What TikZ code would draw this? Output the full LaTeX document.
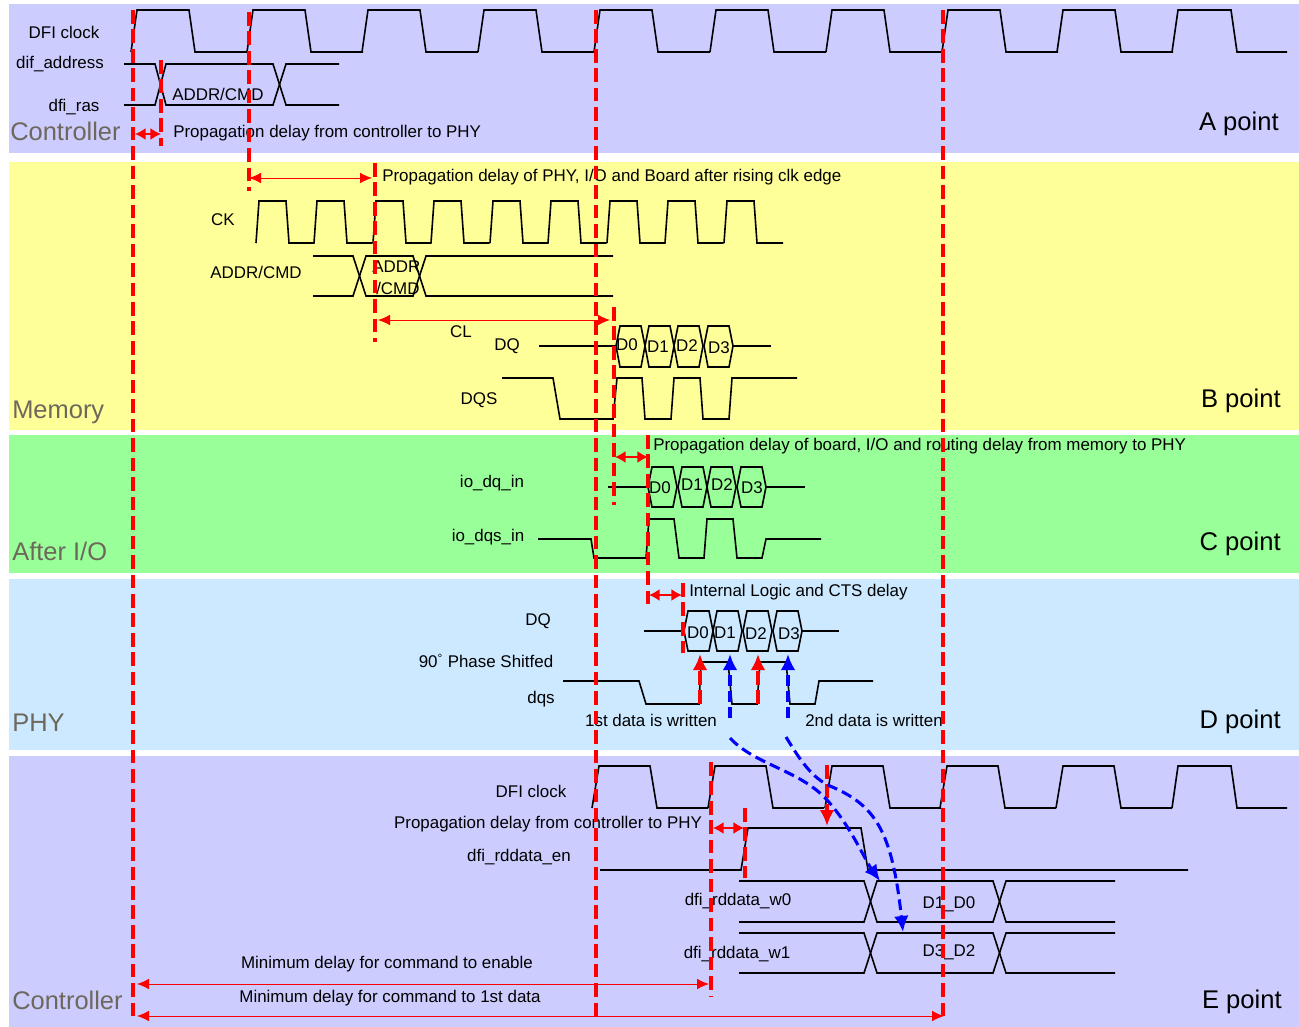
\documentclass[tikz,border=0pt]{standalone}
\usepackage{fontspec}
\setmainfont{Liberation Sans}
\usetikzlibrary{arrows.meta}
\definecolor{ctrlband}{HTML}{CCCCFF}
\definecolor{membband}{HTML}{FFFF99}
\definecolor{ioband}{HTML}{99FF99}
\definecolor{phyband}{HTML}{CCE9FF}
\definecolor{bandtext}{HTML}{6E675C}
\tikzset{
    wave/.style={line join=miter,line width=1.2pt,draw=black},
    label/.style={inner sep=0pt,yshift=-1.4pt,font=\fontsize{12.7}{14}\selectfont},
    band/.style={inner sep=0pt,anchor=west,yshift=-0.6pt,text=bandtext,font=\fontsize{19.1}{22}\selectfont},
    spot/.style={inner sep=0pt,anchor=east,yshift=-1.4pt,font=\fontsize{19.2}{22}\selectfont},
    clkedge/.style={red,line width=2.3pt,dash pattern=on 10.2pt off 4.4pt},
    span/.style={red,line width=0.7pt,{Latex[length=9pt,width=8pt]}-{Latex[length=9pt,width=8pt]}},
    shortspan/.style={red,line width=1.2pt,{Latex[length=8pt,width=9pt]}-{Latex[length=8pt,width=9pt]}},
    redup/.style={clkedge,-{Latex[length=12pt,width=11pt]}},
    blueup/.style={blue,line width=2.3pt,dash pattern=on 8pt off 4pt,-{Latex[length=12pt,width=11pt]}},
}
\begin{document}
\begin{tikzpicture}[x=0.75pt,y=-0.75pt]
\useasboundingbox (0,0) rectangle (1299,1027);

% bands
\fill[ctrlband] (9,4) rectangle (1299,153);
\fill[membband] (9,162) rectangle (1299,430);
\fill[ioband] (9,435) rectangle (1299,573);
\fill[phyband] (9,579) rectangle (1299,750);
\fill[ctrlband] (9,756) rectangle (1299,1027);

% controller A
\foreach \x in {131,247,362,478,594,710,826,942,1057} {
    \draw[wave] (\x,52) -- (\x+6,10) -- (\x+58,10) -- (\x+64,52) -- (\x+116,52);
}
\draw[wave] (1172,52) -- (1178,10) -- (1231,10) -- (1237,52) -- (1287,52);
\draw[wave] (124,64) -- (155,64) -- (166,105) -- (273,105) -- (286,64) -- (339,64);
\draw[wave] (124,105) -- (155,105) -- (166,64) -- (273,64) -- (286,105) -- (339,105);
\node[label] (dficlk) at (64,31) {DFI clock};
\node[label] (difaddr) at (60,62) {dif\_address};
\node[label] (dfiras) at (74,105) {dfi\_ras};
\node[label,anchor=west] (addra) at (172,93) {ADDR/CMD};
\node[label,anchor=west] (propa) at (173,131) {Propagation delay from controller to PHY};
\node[band] (ctrla) at (10,131) {Controller};
\node[spot] (pointa) at (1279,122) {A point};

% memory B
\foreach \x in {256,314,373,431,490,548,607,665} {
    \draw[wave] (\x,243) -- (\x+3,201) -- (\x+30,201) -- (\x+33,243) -- (\x+58.5,243);
}
\draw[wave] (724,243) -- (727,201) -- (754,201) -- (757,243) -- (783,243);
\draw[wave] (313,256) -- (353,256) -- (366,296) -- (413,296) -- (426,256) -- (613,256);
\draw[wave] (313,296) -- (353,296) -- (366,256) -- (413,256) -- (426,296) -- (613,296);
\draw[wave] (539,346) -- (616,346);
\draw[wave] (733,346) -- (771,346);
\foreach \x in {616,645,674,704} {
    \draw[wave] (\x,346) -- (\x+4,326) -- (\x+25,326) -- (\x+29,346) -- (\x+25,367) -- (\x+4,367) -- cycle;
}
\draw[wave] (502,378) -- (553,378) -- (560,419) -- (613,419) -- (617,378) -- (642,378) -- (645,419)
    -- (671,419) -- (674,378) -- (700,378) -- (703,419) -- (729,419) -- (732,378) -- (797,378);
\node[label,anchor=west] (prop) at (382,175) {Propagation delay of PHY, I/O and Board after rising clk edge};
\node[label] (ckb) at (223,218) {CK};
\node[label] (addrb) at (256,271) {ADDR/CMD};
\node[label,anchor=west] (addrin) at (372,265) {ADDR};
\node[label,anchor=west] (cmdin) at (376,287) {/CMD};
\node[label] (clb) at (461,330) {CL};
\node[label] (dqb) at (507,344) {DQ};
\node[label] (dqsb) at (479,398) {DQS};
\node[label] (b0) at (627,343) {D0};
\node[label] (b1) at (658,345) {D1};
\node[label] (b2) at (687,344) {D2};
\node[label] (b3) at (719,346) {D3};
\node[band] (memb) at (12,412) {Memory};
\node[spot] (pointb) at (1281,399) {B point};

% after io C
\draw[wave] (608,487) -- (648,487);
\draw[wave] (766,487) -- (805,487);
\foreach \x in {648,678,707,737} {
    \draw[wave] (\x,487) -- (\x+4,467) -- (\x+25,467) -- (\x+29,487) -- (\x+25,507) -- (\x+4,507) -- cycle;
}
\draw[wave] (538,539) -- (591,539) -- (594,558) -- (646,558) -- (649,519) -- (674,519) -- (679,558)
    -- (704,558) -- (707,519) -- (733,519) -- (737,558) -- (762,558) -- (766,539) -- (821,539);
\node[label,anchor=west] (propc) at (653,444) {Propagation delay of board, I/O and routing delay from memory to PHY};
\node[label] (iodq) at (492,481) {io\_dq\_in};
\node[label] (iodqs) at (488,535) {io\_dqs\_in};
\node[label] (c0) at (660,486) {D0};
\node[label] (c1) at (692,483) {D1};
\node[label] (c2) at (722,483) {D2};
\node[label] (c3) at (752,486) {D3};
\node[band] (afterio) at (12,551) {After I/O};
\node[spot] (pointc) at (1281,542) {C point};

% phy D
\draw[wave] (644,631) -- (684,631);
\draw[wave] (802,631) -- (839,631);
\foreach \x in {684,713,743,773} {
    \draw[wave] (\x,631) -- (\x+4,611) -- (\x+25,611) -- (\x+29,631) -- (\x+25,651) -- (\x+4,651) -- cycle;
}
\draw[wave] (563,681) -- (639,681) -- (646,704) -- (699,704) -- (701,662) -- (728,662) -- (732,704)
    -- (757,704) -- (760,662) -- (786,662) -- (790,704) -- (815,704) -- (819,681) -- (873,681);
\node[label,anchor=west] (propd) at (689,590) {Internal Logic and CTS delay};
\node[label] (dqd) at (538,619) {DQ};
\node[label] (phase) at (486,659) {90\textsuperscript{\textdegree} Phase Shitfed};
\node[label] (dqsd) at (541,697) {dqs};
\node[label] (first) at (651,719) {1st data is written};
\node[label] (second) at (874,719) {2nd data is written};
\node[label] (d0) at (698,631) {D0};
\node[label] (d1) at (725,631) {D1};
\node[label] (d2) at (756,632) {D2};
\node[label] (d3) at (789,632) {D3};
\node[band] (phyd) at (12,722) {PHY};
\node[spot] (pointd) at (1281,720) {D point};

% controller E
\foreach \x in {592,708,825,940,1056} {
    \draw[wave] (\x,808) -- (\x+7,766) -- (\x+58,766) -- (\x+65,808) -- (\x+116,808);
}
\draw[wave] (1172,808) -- (1178,766) -- (1231,766) -- (1237,808) -- (1287,808);
\draw[wave] (600,870) -- (741,870) -- (748,828) -- (861,828) -- (868,870) -- (1188,870);
\foreach \ya/\yb in {881/922,933/973} {
    \draw[wave] (739,\ya) -- (864,\ya) -- (877,\yb) -- (993,\yb) -- (1006,\ya) -- (1115,\ya);
    \draw[wave] (739,\yb) -- (864,\yb) -- (877,\ya) -- (993,\ya) -- (1006,\yb) -- (1115,\yb);
}
\node[label] (dficlke) at (531,790) {DFI clock};
\node[label] (prope) at (548,822) {Propagation delay from controller to PHY};
\node[label] (rden) at (519,855) {dfi\_rddata\_en};
\node[label] (w0) at (738,899) {dfi\_rddata\_w0};
\node[label] (w1) at (737,952) {dfi\_rddata\_w1};
\node[label] (d1d0) at (949,902) {D1\_D0};
\node[label] (d3d2) at (949,950) {D3\_D2};
\node[label] (minen) at (387,962) {Minimum delay for command to enable};
\node[label] (mindata) at (390,996) {Minimum delay for command to 1st data};
\node[band] (ctrle) at (12,1000) {Controller};
\node[spot] (pointe) at (1282,1000) {E point};

% timing edges
\draw[clkedge] (133,10) -- (133,1020);
\draw[clkedge] (596,10) -- (596,1020);
\draw[clkedge] (943,10) -- (943,1020);
\draw[clkedge] (249,12) -- (249,191);
\draw[clkedge] (161,60) -- (161,146);
\draw[clkedge] (375,163) -- (375,342);
\draw[clkedge] (614,307) -- (614,505);
\draw[clkedge] (648,435) -- (648,608);
\draw[clkedge] (683,583) -- (683,653);
\draw[clkedge] (711,762) -- (711,997);
\draw[clkedge] (745,808) -- (745,878);

% spans
\draw[shortspan] (135,134) -- (161,134);
\draw[span] (249,178) -- (372,178);
\draw[span] (378,320) -- (610,320);
\draw[shortspan] (615,457) -- (648,457);
\draw[shortspan] (649,595) -- (682,595);
\draw[shortspan] (713,828) -- (744,828);
\draw[span] (137,984) -- (709,984);
\draw[span] (137,1016) -- (944,1016);

% capture strobes
\draw[redup] (700,704) -- (700,654);
\draw[redup] (758,704) -- (758,654);
\draw[blueup] (730,718) -- (730,654);
\draw[blueup] (788,718) -- (788,654);
\draw[redup] (827,765) -- (827,826);
\draw[blueup] (730,738) .. controls (755,765) and (800,770) .. (827,800) .. controls (850,825) and (865,860) .. (880,881);
\draw[blueup] (786,737) .. controls (800,760) and (812,778) .. (830,786) .. controls (875,805) and (892,830) .. (903,932);
\end{tikzpicture}
\end{document}
